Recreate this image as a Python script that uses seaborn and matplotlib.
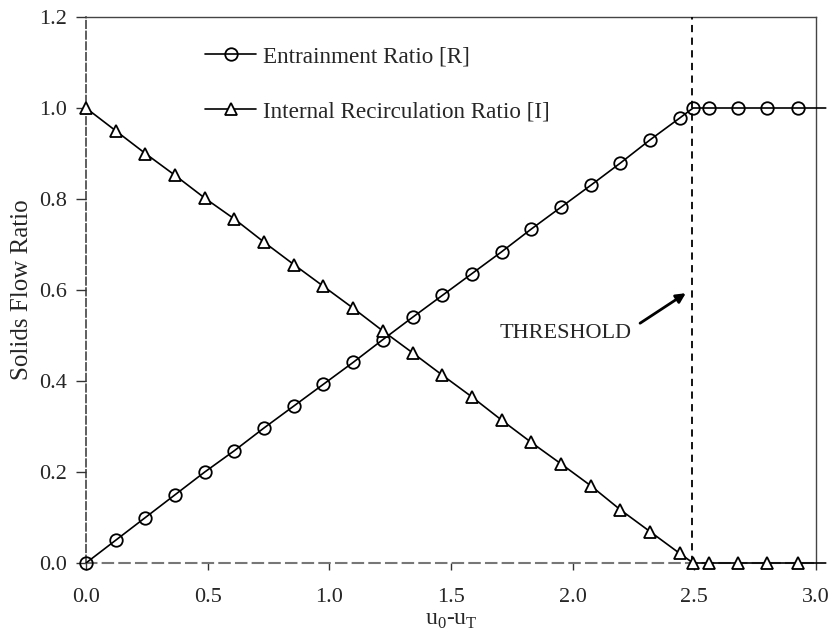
import matplotlib
matplotlib.use("Agg")
import matplotlib.pyplot as plt
import seaborn as sns
import pandas as pd

# Excess gas velocity u0 - uT
velocity = [0.000, 0.122, 0.244, 0.366, 0.488, 0.610, 0.732, 0.854, 0.976, 1.098,
            1.220, 1.342, 1.464, 1.586, 1.708, 1.830, 1.952, 2.074, 2.196, 2.318,
            2.440, 2.495, 2.562, 2.681, 2.800, 2.925]

# Entrainment ratio R
entrainment = [0.000, 0.050, 0.100, 0.150, 0.200, 0.247, 0.297, 0.345, 0.393, 0.441,
               0.491, 0.540, 0.588, 0.636, 0.684, 0.734, 0.782, 0.830, 0.879, 0.930,
               0.978, 1.000, 1.000, 1.000, 1.000, 1.000]

# Internal recirculation ratio I
recirculation = [1.000, 0.950, 0.900, 0.852, 0.802, 0.756, 0.705, 0.656, 0.608, 0.560,
                 0.510, 0.462, 0.413, 0.365, 0.314, 0.265, 0.218, 0.170, 0.117, 0.069,
                 0.021, 0.000, 0.000, 0.000, 0.000, 0.000]

# the plotted curves run a little past the right-hand frame
line_end_x = 3.04

threshold_x = 2.49
x_ticks = [0.0, 0.5, 1.0, 1.5, 2.0, 2.5, 3.0]
y_ticks = [0.0, 0.2, 0.4, 0.6, 0.8, 1.0, 1.2]

sns.set_style("ticks")
plt.rcParams["font.family"] = ["Liberation Serif", "DejaVu Serif"]
plt.rcParams["mathtext.fontset"] = "custom"
plt.rcParams["mathtext.rm"] = "Liberation Serif"

fig = plt.figure(figsize=(8.32, 6.36), dpi=100)
ax = fig.add_axes([86 / 832, 1 - 563 / 636, 730 / 832, 546 / 636])

df_r = pd.DataFrame({"x": velocity + [line_end_x], "y": entrainment + [entrainment[-1]]})
df_i = pd.DataFrame({"x": velocity + [line_end_x], "y": recirculation + [recirculation[-1]]})
marks = list(range(len(velocity)))

sns.lineplot(data=df_r, x="x", y="y", ax=ax, sort=False, color="black", lw=1.2,
             marker="o", markersize=9, markerfacecolor="none", markeredgecolor="black",
             markeredgewidth=1.3, markevery=marks, clip_on=False, zorder=4,
             label="Entrainment Ratio [R]")
sns.lineplot(data=df_i, x="x", y="y", ax=ax, sort=False, color="black", lw=1.2,
             marker="^", markersize=8.5, markerfacecolor="white", markeredgecolor="black",
             markeredgewidth=1.3, markevery=marks, clip_on=False, zorder=4,
             label="Internal Recirculation Ratio [I]")

# threshold line
ax.plot([threshold_x, threshold_x], [0, 1.2], color="black", lw=1.3,
        linestyle=(0, (4, 3)), zorder=3)
ax.annotate("", xy=(2.465, 0.593), xytext=(2.277, 0.527),
            arrowprops=dict(arrowstyle="-|>", color="black", lw=2,
                            mutation_scale=14, shrinkA=0, shrinkB=0))
ax.text(2.24, 0.505, "THRESHOLD", fontsize=16, ha="right", va="center")

ax.set_xlim(0, 3.0)
ax.set_ylim(0, 1.2)
ax.set_xticks(x_ticks)
ax.set_yticks(y_ticks)
ax.set_xticklabels([f"{v:.1f}" for v in x_ticks])
ax.set_yticklabels([f"{v:.1f}" for v in y_ticks])
ax.tick_params(axis="x", direction="out", length=5, width=1, pad=13, labelsize=16,
               color="#333333")
ax.tick_params(axis="y", direction="out", length=7, width=1, pad=7, labelsize=16,
               color="#333333")

for side in ["top", "right"]:
    ax.spines[side].set_color("#444444")
    ax.spines[side].set_linewidth(1)
ax.spines["left"].set_color("#333333")
ax.spines["left"].set_linestyle((0, (5, 2)))
ax.spines["left"].set_linewidth(1.1)
ax.spines["bottom"].set_color("#777777")
ax.spines["bottom"].set_linestyle((0, (5, 3)))
ax.spines["bottom"].set_linewidth(1.5)

ax.set_xlabel(r"u$_{\mathregular{0}}$-u$_{\mathregular{T}}$", fontsize=17, labelpad=2)
ax.set_ylabel("Solids Flow Ratio", fontsize=18, labelpad=4)

ax.legend(loc="upper left", bbox_to_anchor=(205 / 832, 1 - 46 / 636),
          bbox_transform=fig.transFigure, frameon=False, fontsize=16.7,
          handlelength=2.2, handletextpad=0.3, labelspacing=1.45,
          borderpad=0, borderaxespad=0)

fig.savefig("out.png", dpi=100)
